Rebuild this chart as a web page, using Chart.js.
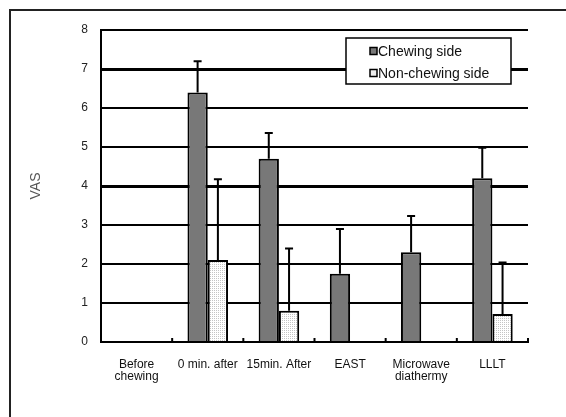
<!DOCTYPE html>
<html>
<head>
<meta charset="utf-8">
<script src="https://cdn.jsdelivr.net/npm/chart.js@4"></script>
<style>
  html, body { margin: 0; padding: 0; background: #fff; }
  canvas { display: block; }
</style>
</head>
<body>
<canvas id="vasChart" width="566" height="417"></canvas>
<script>
  const categories = [["Before", "chewing"], "0 min. after", "15min. After", "EAST", ["Microwave", "diathermy"], "LLLT"];
  const chewing = [0, 6.4, 4.7, 1.75, 2.3, 4.2];
  const chewingErr = [0, 0.8, 0.66, 1.15, 0.93, 0.78];
  const nonChewing = [0, 2.1, 0.8, 0, 0, 0.72];
  const nonChewingErr = [0, 2.07, 1.6, 0, 0, 1.32];
  const yTicks = [0, 1, 2, 3, 4, 5, 6, 7, 8];

  const FONT = "'Liberation Sans', Arial, sans-serif";

  // stipple fill for the light bars
  function stipple() {
    const c = document.createElement("canvas");
    c.width = 2; c.height = 2;
    const g = c.getContext("2d");
    g.fillStyle = "#ffffff";
    g.fillRect(0, 0, 2, 2);
    g.fillStyle = "#c4c4c4";
    g.fillRect(0, 0, 1, 1);
    return g.createPattern(c, "repeat");
  }
  const lightFill = stipple();

  const errorBars = {
    id: "errorBars",
    afterDatasetsDraw(chart) {
      const ctx = chart.ctx;
      const y = chart.scales.y;
      const errs = [chewingErr, nonChewingErr];
      ctx.save();
      ctx.strokeStyle = "#000";
      ctx.lineWidth = 2;
      chart.data.datasets.forEach((ds, di) => {
        chart.getDatasetMeta(di).data.forEach((bar, i) => {
          const e = errs[di][i];
          if (!e) return;
          const top = y.getPixelForValue(ds.data[i] + e);
          ctx.beginPath();
          ctx.moveTo(bar.x, bar.y);
          ctx.lineTo(bar.x, top);
          ctx.moveTo(bar.x - 4, top);
          ctx.lineTo(bar.x + 4, top);
          ctx.stroke();
        });
      });
      ctx.restore();
    }
  };

  const extras = {
    id: "extras",
    afterDraw(chart) {
      const ctx = chart.ctx;
      const a = chart.chartArea;
      const x = chart.scales.x;
      ctx.save();
      // outer frame
      ctx.strokeStyle = "#222";
      ctx.lineWidth = 2;
      ctx.beginPath();
      ctx.moveTo(10, 417);
      ctx.lineTo(10, 10);
      ctx.lineTo(566, 10);
      ctx.stroke();
      // category boundary ticks
      ctx.strokeStyle = "#000";
      for (let i = 1; i <= categories.length; i++) {
        const px = i < categories.length
          ? (x.getPixelForValue(i - 1) + x.getPixelForValue(i)) / 2
          : a.right;
        ctx.beginPath();
        ctx.moveTo(px, a.bottom);
        ctx.lineTo(px, a.bottom - 4);
        ctx.stroke();
      }
      // legend box
      const bx = 346, by = 38, bw = 165, bh = 46;
      ctx.fillStyle = "#fff";
      ctx.fillRect(bx, by, bw, bh);
      ctx.lineWidth = 1.5;
      ctx.strokeRect(bx, by, bw, bh);
      ctx.font = "14px " + FONT;
      ctx.textBaseline = "middle";
      const fills = ["#787878", "#ececec"];
      chart.data.datasets.forEach((ds, i) => {
        const cy = by + 13 + i * 22;
        ctx.fillStyle = fills[i];
        ctx.fillRect(370, cy - 3.5, 7, 7);
        ctx.lineWidth = 1.5;
        ctx.strokeRect(370, cy - 3.5, 7, 7);
        ctx.fillStyle = "#111";
        ctx.fillText(ds.label, 378, cy + 1);
      });
      ctx.restore();
    }
  };

  new Chart(document.getElementById("vasChart"), {
    type: "bar",
    data: {
      labels: categories,
      datasets: [
        { label: "Chewing side", data: chewing, backgroundColor: "#787878", borderColor: "#000", borderWidth: 2 },
        { label: "Non-chewing side", data: nonChewing, backgroundColor: lightFill, borderColor: "#000", borderWidth: 2 }
      ]
    },
    options: {
      responsive: false,
      animation: false,
      events: [],
      layout: { padding: { left: 28, right: 38, top: 30, bottom: 0 } },
      datasets: { bar: { categoryPercentage: 0.57, barPercentage: 1 } },
      plugins: { legend: { display: false }, tooltip: { enabled: false } },
      scales: {
        x: {
          grid: { display: false },
          border: { color: "#000", width: 2 },
          ticks: { color: "#111", font: { family: FONT, size: 12, lineHeight: 1.05 }, padding: 8, maxRotation: 0, autoSkip: false },
          afterFit(s) { s.height = 75; }
        },
        y: {
          min: 0,
          max: 8,
          afterBuildTicks(s) { s.ticks = yTicks.map((v) => ({ value: v })); },
          grid: {
            color: "#000",
            lineWidth: (c) => (c.tick && (c.tick.value === 7 || c.tick.value === 4) ? 3 : 2),
            drawTicks: false
          },
          border: { color: "#000", width: 2 },
          ticks: { color: "#222", font: { family: FONT, size: 12 }, padding: 13 },
          title: { display: true, text: "VAS", color: "#555", font: { family: FONT, size: 14 }, padding: 0 },
          afterFit(s) { s.width = 73; }
        }
      }
    },
    plugins: [errorBars, extras]
  });
</script>
</body>
</html>
